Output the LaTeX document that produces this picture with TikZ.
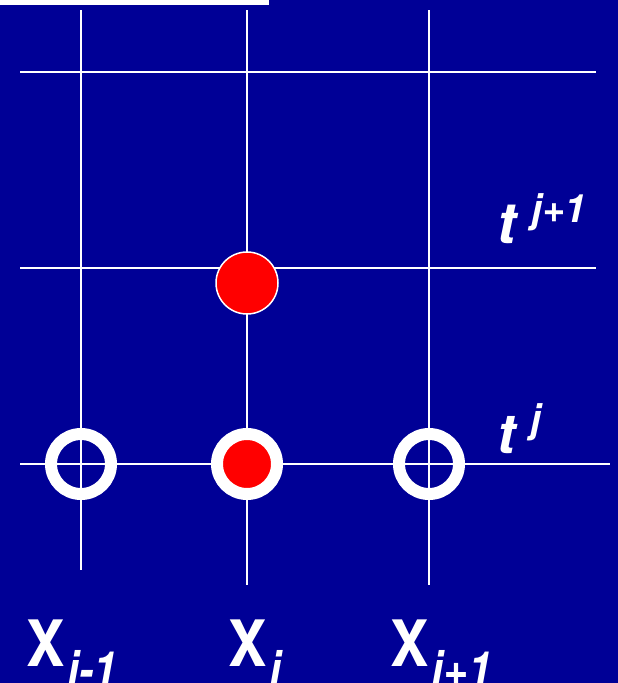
\documentclass[tikz,border=0pt]{standalone}
\usepackage{fontspec}
\setmainfont{TeX Gyre Heros}
\definecolor{bgblue}{RGB}{0,0,150}
\begin{document}
\begin{tikzpicture}[x=1pt,y=-1pt,
  gridline/.style={white,line width=1.6pt},
  ringnode/.style={circle,draw=white,line width=12pt,minimum size=60pt,inner sep=0pt},
  dotnode/.style={circle,fill=red,draw=white,line width=1.5pt,minimum size=62pt,inner sep=0pt},
  lbl/.style={text=white,inner sep=0pt,font=\bfseries}]
\fill[bgblue] (0,0) rectangle (618,683);
\useasboundingbox (0,0) rectangle (618,683);
\fill[white] (0,0) rectangle (269,4.5);
% grid coordinates
\coordinate (v1t) at (81,10);  \coordinate (v1b) at (81,570);
\coordinate (v2t) at (247,10); \coordinate (v2b) at (247,585);
\coordinate (v3t) at (429,10); \coordinate (v3b) at (429,585);
\coordinate (h1l) at (20,72);  \coordinate (h1r) at (596,72);
\coordinate (h2l) at (20,268); \coordinate (h2r) at (596,268);
\coordinate (h3l) at (20,464); \coordinate (h3r) at (610,464);
\draw[gridline] (v1t) -- (v1b);
\draw[gridline] (v2t) -- (v2b);
\draw[gridline] (v3t) -- (v3b);
\draw[gridline] (h1l) -- (h1r);
\draw[gridline] (h2l) -- (h2r);
\draw[gridline] (h3l) -- (h3r);
% circles
\node[ringnode] (ringA) at (81,464) {};
\node[ringnode,fill=red] (ringB) at (247,464) {};
\node[ringnode] (ringC) at (429,464) {};
\node[dotnode] (dotTop) at (247,283) {};
% time labels
\node[lbl,anchor=base west] (tj1) at (497,243) {\fontsize{57}{57}\selectfont\bfseries\itshape t\hspace{15pt}\raisebox{21pt}{\fontsize{39}{39}\selectfont\bfseries\itshape j+1}};
\node[lbl,anchor=base west] (tj) at (497,453) {\fontsize{55}{55}\selectfont\bfseries\itshape t\hspace{15pt}\raisebox{21pt}{\fontsize{39}{39}\selectfont\bfseries\itshape j}};
% space labels
\node[lbl,anchor=base west] (xim1) at (26,666) {\fontsize{64}{64}\selectfont\bfseries\scalebox{0.9}[1]{X}\hspace{3pt}\raisebox{-21pt}{\fontsize{50}{50}\selectfont\bfseries\itshape\scalebox{0.85}[1]{i-1}}};
\node[lbl,anchor=base west] (xi) at (228,666) {\fontsize{64}{64}\selectfont\bfseries\scalebox{0.9}[1]{X}\hspace{3pt}\raisebox{-21pt}{\fontsize{50}{50}\selectfont\bfseries\itshape\scalebox{0.85}[1]{i}}};
\node[lbl,anchor=base west] (xip1) at (390,666) {\fontsize{64}{64}\selectfont\bfseries\scalebox{0.9}[1]{X}\hspace{3pt}\raisebox{-21pt}{\fontsize{50}{50}\selectfont\bfseries\itshape\scalebox{0.85}[1]{i+1}}};
\end{tikzpicture}
\end{document}
